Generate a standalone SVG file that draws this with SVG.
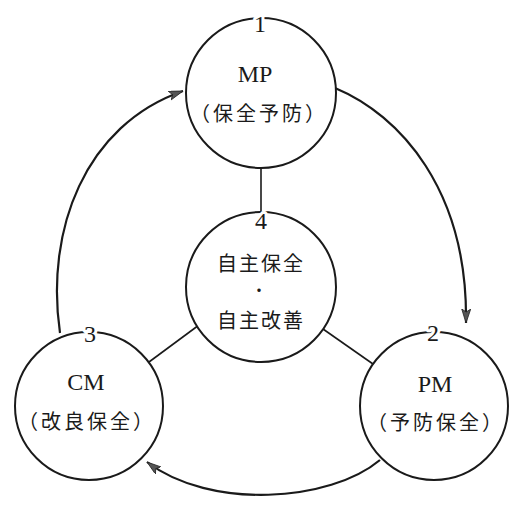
<svg xmlns="http://www.w3.org/2000/svg" width="528" height="508" viewBox="0 0 528 508">
<defs>
<marker id="arr" markerWidth="16" markerHeight="10" refX="14" refY="4.5" orient="auto" markerUnits="userSpaceOnUse">
<path d="M0,0 L14,4.5 L0,9 L3,4.5 z" fill="#555" stroke="#222" stroke-width="0.8"/>
</marker>
<style>
.c{fill:#fff;stroke:#1a1a1a;stroke-width:2}
.ln{stroke:#1a1a1a;stroke-width:1.6;fill:none}
.arc{stroke:#1a1a1a;stroke-width:2.2;fill:none}
.lat{font-family:"Liberation Serif",serif;font-size:24px;fill:#1a1a1a;text-anchor:middle}
.cjk{font-family:"Noto Sans CJK JP",sans-serif;font-size:20px;fill:#1a1a1a;text-anchor:middle;letter-spacing:3px}
.cen{font-family:"Noto Sans CJK JP",sans-serif;font-size:20px;fill:#1a1a1a;text-anchor:middle;letter-spacing:2px}
.dot{font-family:"Noto Sans CJK JP",sans-serif;font-size:16px;fill:#1a1a1a;text-anchor:middle}
.num{font-family:"Liberation Serif",serif;font-size:24px;fill:#1a1a1a;text-anchor:middle;stroke:#fff;stroke-width:6px;paint-order:stroke;stroke-linejoin:round}
</style>
</defs>
<rect width="528" height="508" fill="#fff"/>
<g id="connectors">
<line class="ln" x1="261" y1="168" x2="261" y2="214"/>
<line class="ln" x1="199" y1="325" x2="149" y2="362"/>
<line class="ln" x1="323" y1="329" x2="373" y2="364"/>
<path class="arc" d="M335,88 C400,115 468,190 466,323" marker-end="url(#arr)"/>
<path class="arc" d="M380,460 C330,502 210,510 147,462" marker-end="url(#arr)"/>
<path class="arc" d="M60,333 C45,230 85,125 183,91" marker-end="url(#arr)"/>
</g>
<g id="node-mp">
<circle class="c" cx="261" cy="93" r="75"/>
<text class="num" x="260" y="32">1</text>
<text class="lat" x="255" y="82">MP</text>
<text class="cjk" x="259" y="121">（保全予防）</text>
</g>
<g id="node-center">
<circle class="c" cx="261" cy="287" r="75"/>
<text class="num" x="261" y="229">4</text>
<text class="cen" x="261" y="271">自主保全</text>
<text class="dot" x="259" y="296">・</text>
<text class="cen" x="261" y="328">自主改善</text>
</g>
<g id="node-cm">
<circle class="c" cx="89" cy="406" r="74"/>
<text class="num" x="90" y="342">3</text>
<text class="lat" x="86" y="390">CM</text>
<text class="cjk" x="87" y="429">（改良保全）</text>
</g>
<g id="node-pm">
<circle class="c" cx="434" cy="406" r="74"/>
<text class="num" x="433" y="341">2</text>
<text class="lat" x="435" y="392">PM</text>
<text class="cjk" x="436" y="430">（予防保全）</text>
</g>
</svg>
